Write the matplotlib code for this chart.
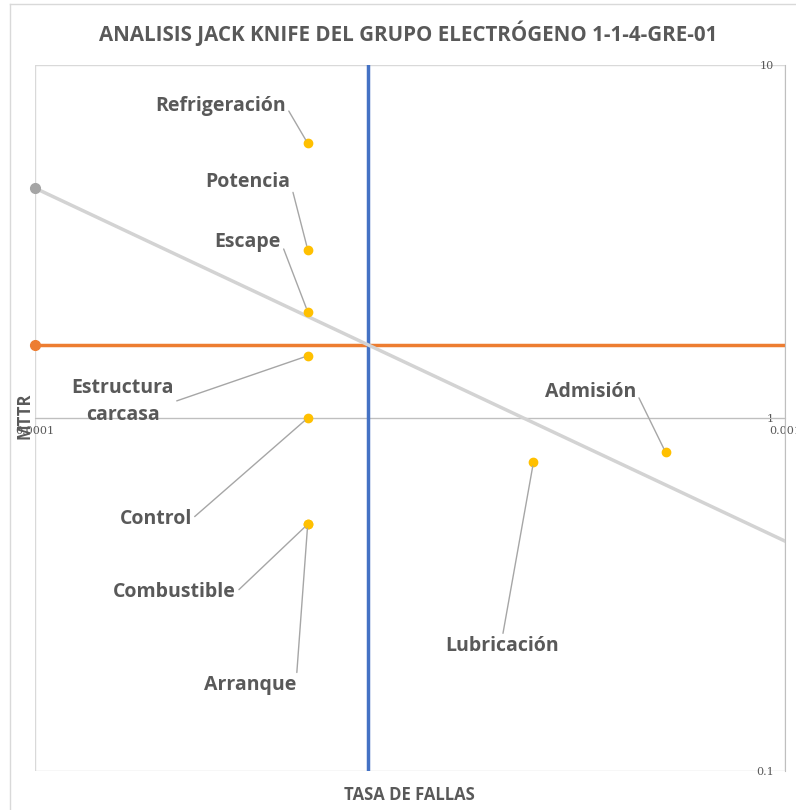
import numpy as np
import matplotlib
matplotlib.use('Agg')
import matplotlib.pyplot as plt
from matplotlib.lines import Line2D

# datos
componentes = ['Refrigeración', 'Potencia', 'Escape', 'Estructura\ncarcasa', 'Control',
               'Combustible', 'Arranque', 'Lubricación', 'Admisión']
tasa_fallas = [2.31e-4, 2.31e-4, 2.31e-4, 2.31e-4, 2.31e-4, 2.31e-4, 2.31e-4, 4.62e-4, 6.93e-4]
mttr = [6.0, 3.0, 2.0, 1.5, 1.0, 0.5, 0.5, 0.75, 0.8]

mttr_prom = 1.61
tasa_prom = 2.78e-4
limite_x = [1e-4, 1e-3]
limite_y = [4.48, 0.448]

x_ticks = [1e-4, 1e-3]
x_ticklabels = ['0.0001', '0.001']
y_ticks = [0.1, 1, 10]
y_ticklabels = ['0.1', '1', '10']

# posicion de las etiquetas (offset en pixeles) y punto de union del conector
offsets = [(-87, 37), (-60, 68), (-60, 70), (-185, -46), (-152, -101),
           (-133, -68), (-58, -161), (-31, -184), (-75, 60)]
relpos = [(1, 0.5)] * 7 + [(0.5, 1), (1, 0.5)]

gris_txt = '#595959'

fig = plt.figure(figsize=(7.96, 8.10), dpi=100)
ax = fig.add_axes([35 / 796, 1 - 771 / 810, 750 / 796, 706 / 810])

ax.set_xscale('log')
ax.set_yscale('log')
ax.set_xlim(1e-4, 1e-3)
ax.set_ylim(0.1, 10)

ax.set_xticks(x_ticks)
ax.set_xticklabels(x_ticklabels)
ax.set_yticks(y_ticks)
ax.set_yticklabels(y_ticklabels)
ax.minorticks_off()

ax.grid(True, which='major', color='#d9d9d9', lw=1, zorder=0)
ax.set_axisbelow(True)

for s in ['top', 'left']:
    ax.spines[s].set_visible(False)
ax.spines['bottom'].set_position(('data', 1))
ax.spines['bottom'].set_color('#bfbfbf')
ax.spines['right'].set_color('#bfbfbf')

ax.tick_params(axis='x', length=0, pad=6, labelsize=8, labelcolor=gris_txt)
ax.tick_params(axis='y', length=0, left=False, labelleft=False, right=True,
               labelright=True, pad=-8, labelsize=8, labelcolor=gris_txt)
for lab in ax.get_xticklabels() + ax.get_yticklabels():
    lab.set_fontfamily('DejaVu Serif')
for t in ax.yaxis.get_major_ticks():
    t.label2.set_horizontalalignment('right')

# lineas de referencia
ax.plot(limite_x, [mttr_prom, mttr_prom], color='#ed7d31', lw=2.5, zorder=2)
ax.plot(limite_x[:1], [mttr_prom], 'o', color='#ed7d31', markersize=7, clip_on=False, zorder=2)
ax.axvline(tasa_prom, color='#4472c4', lw=2.5, zorder=3)
ax.plot(limite_x, limite_y, color='#d3d3d3', lw=2.5, zorder=4)
ax.plot(limite_x[:1], limite_y[:1], 'o', color='#a5a5a5', markersize=7, clip_on=False, zorder=4)

ax.scatter(tasa_fallas, mttr, s=36, color='#ffc000', zorder=5)

for i in range(len(componentes)):
    ax.annotate(componentes[i], (tasa_fallas[i], mttr[i]), xytext=offsets[i],
                textcoords='offset pixels', ha='center', va='center',
                fontsize=14, fontweight='bold', color=gris_txt, fontfamily='Open Sans',
                linespacing=1.45,
                arrowprops=dict(arrowstyle='-', color='#a6a6a6', lw=1,
                                relpos=relpos[i], shrinkA=0, shrinkB=3),
                zorder=6)

fig.text(408 / 796, 1 - 33 / 810, 'ANALISIS JACK KNIFE DEL GRUPO ELECTRÓGENO 1-1-4-GRE-01',
         ha='center', va='center', fontsize=14.8, color=gris_txt, fontfamily='Open Sans',
         fontweight='bold')
fig.text(409 / 796, 1 - 795 / 810, 'TASA DE FALLAS', ha='center', va='center',
         fontsize=12, color=gris_txt, fontfamily='Open Sans', fontweight='bold')
fig.text(25 / 796, 1 - 416 / 810, 'MTTR', ha='center', va='center', rotation=90,
         fontsize=12, color=gris_txt, fontfamily='Open Sans', fontweight='bold')

# borde exterior del grafico
fig.add_artist(Line2D([9.5 / 796, 9.5 / 796], [0, 1 - 3.5 / 810], color='#d9d9d9', lw=1))
fig.add_artist(Line2D([9.5 / 796, 1], [1 - 3.5 / 810, 1 - 3.5 / 810], color='#d9d9d9', lw=1))

fig.savefig('out.png', dpi=100)
